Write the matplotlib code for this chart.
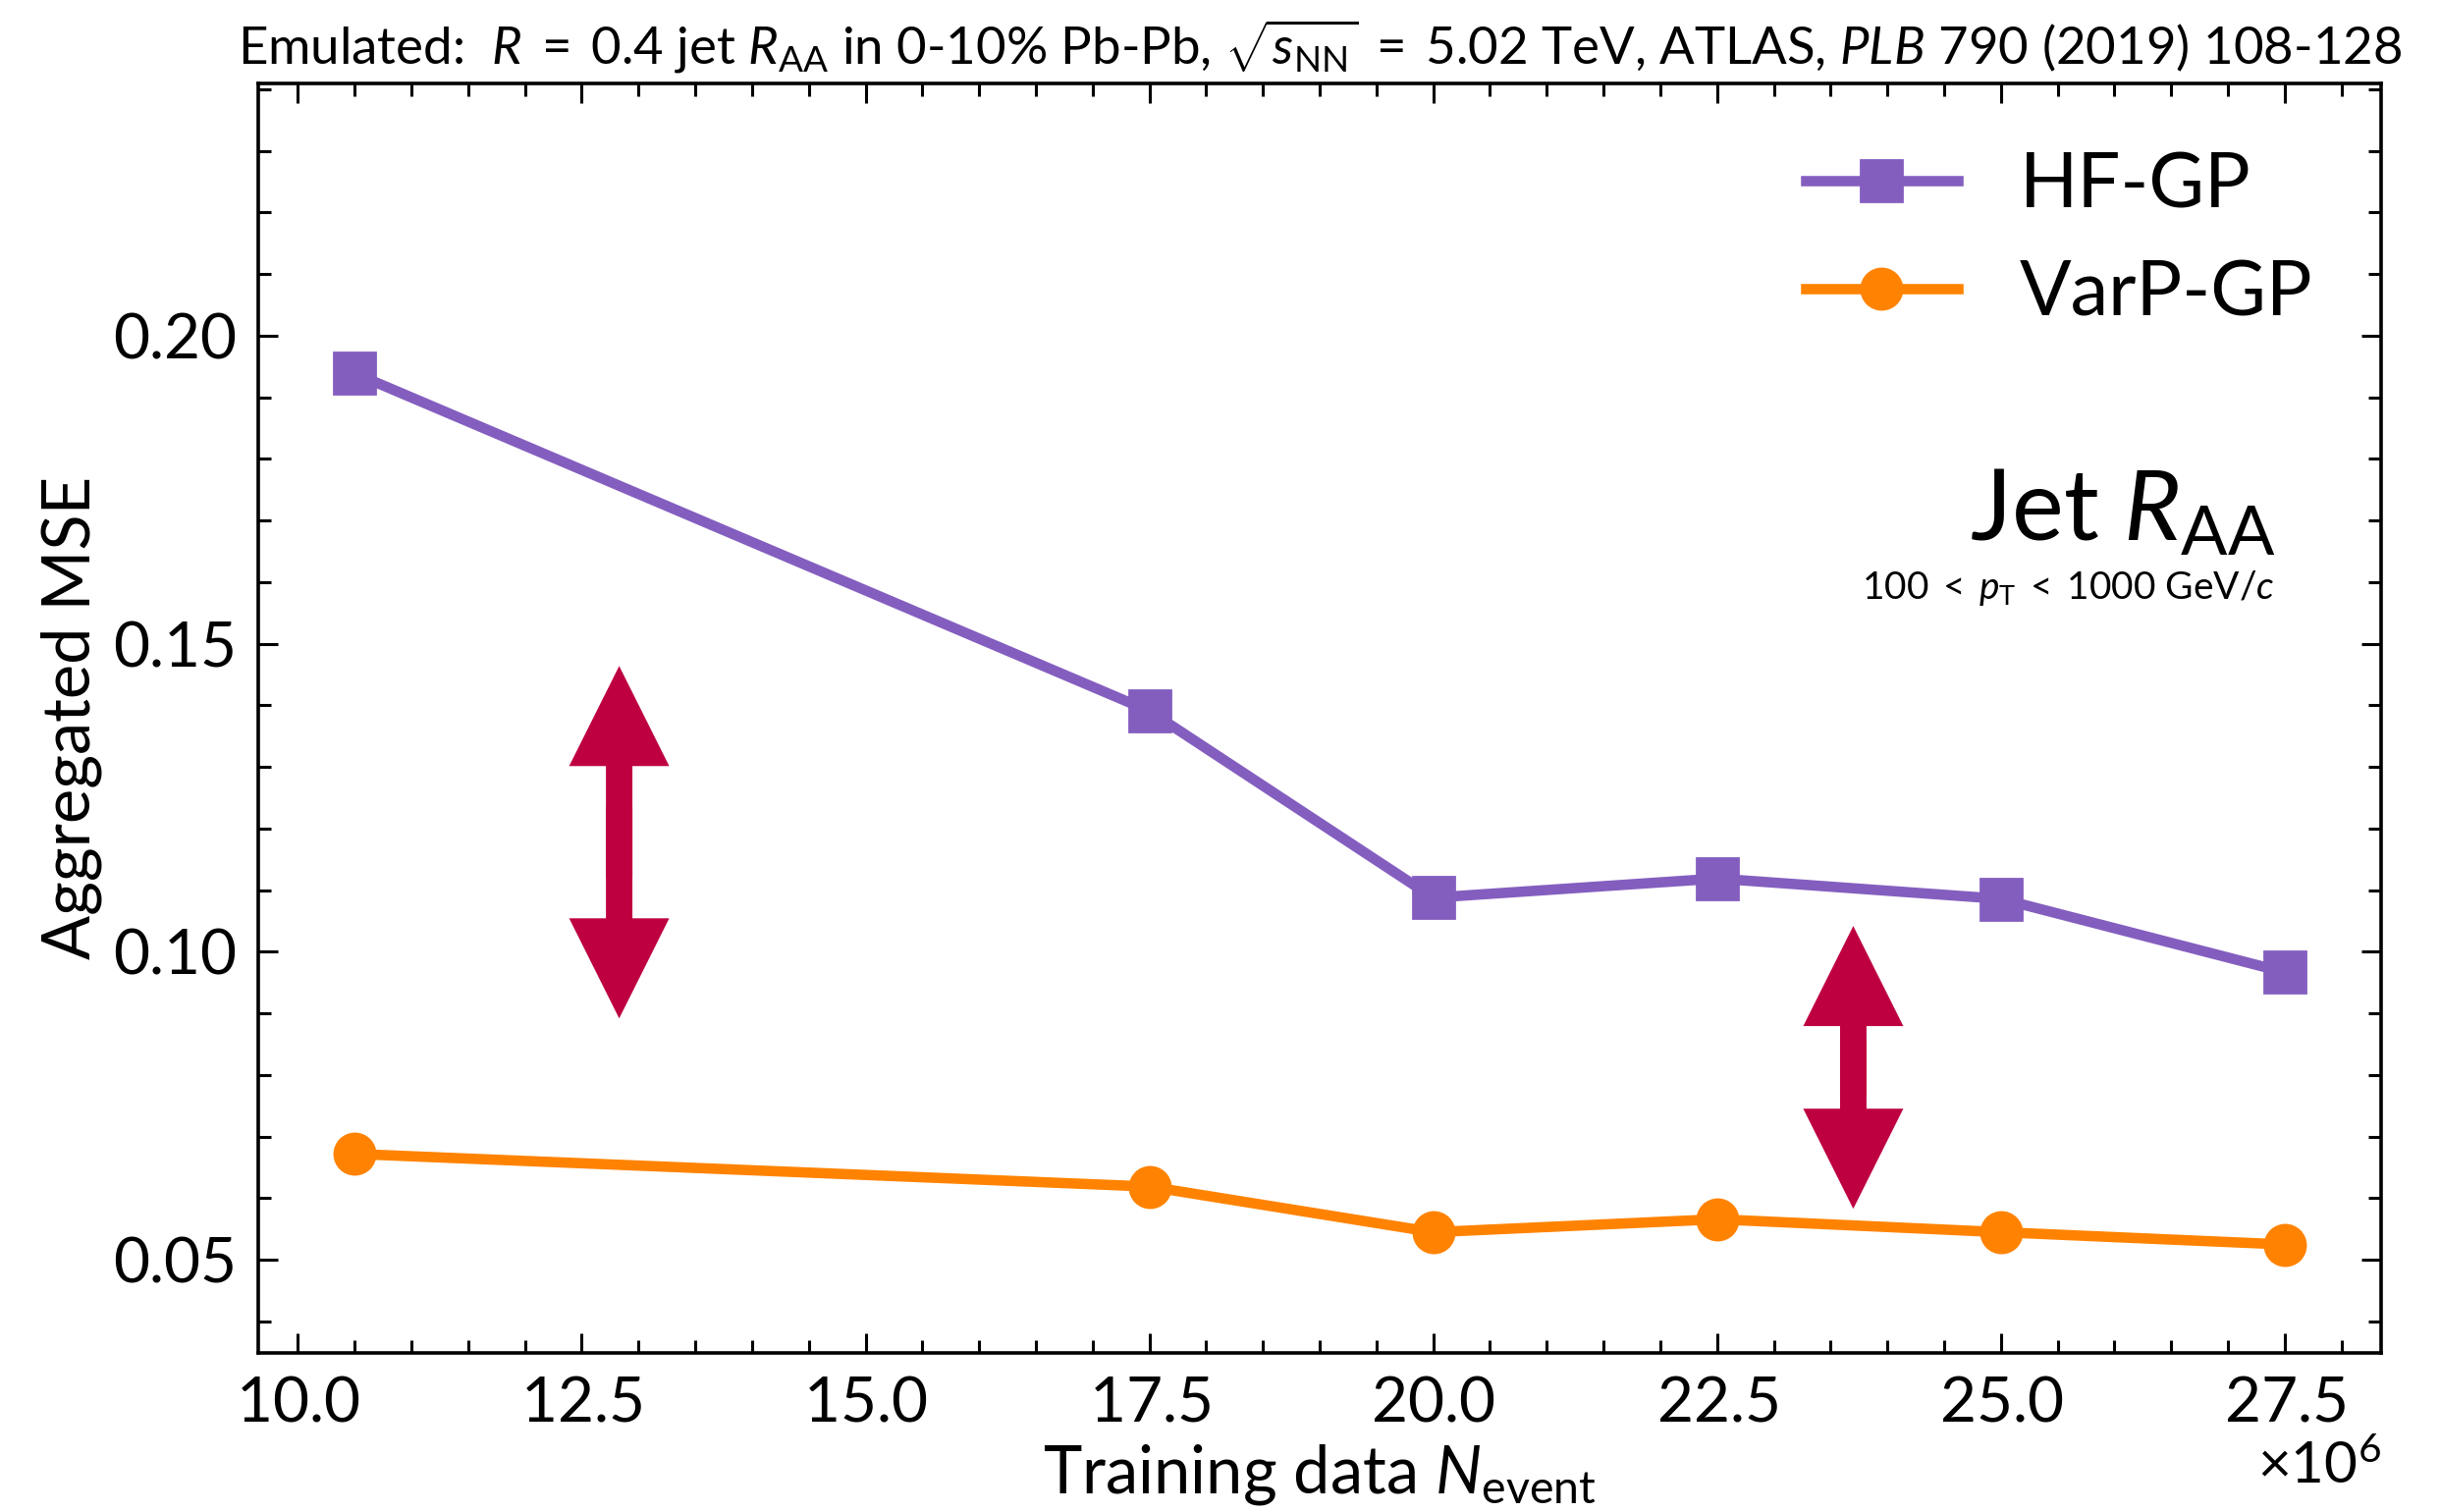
import matplotlib
matplotlib.use("Agg")
import matplotlib.pyplot as plt
from matplotlib.ticker import ScalarFormatter, AutoMinorLocator, MultipleLocator
from matplotlib.patches import FancyArrowPatch

# ---- data ----
n_event = [10.5e6, 17.5e6, 20.0e6, 22.5e6, 25.0e6, 27.5e6]
hf_gp = [0.1939, 0.1391, 0.1088, 0.1119, 0.1086, 0.0967]
varp_gp = [0.0672, 0.0619, 0.0545, 0.0566, 0.0545, 0.0525]
arrow_x = [12.83e6, 23.70e6]
arrow_top = [0.1464, 0.1042]
arrow_bottom = [0.0892, 0.0583]

plt.rcParams['font.family'] = ['Lato', 'DejaVu Sans']
plt.rcParams['mathtext.fontset'] = 'custom'
plt.rcParams['mathtext.rm'] = 'Lato'
plt.rcParams['mathtext.it'] = 'Lato:italic'
plt.rcParams['mathtext.bf'] = 'Lato:bold'

fig = plt.figure(figsize=(12.425, 7.7), dpi=200)
ax = fig.add_axes([0.1058, 0.1052, 0.9759 - 0.1058, 0.945 - 0.1052])

purple = '#845ebf'
orange = '#ff8300'
crimson = '#be0040'

ax.plot(n_event, hf_gp, color=purple, lw=3.8, marker='s', ms=14.8, label='HF-GP')
ax.plot(n_event, varp_gp, color=orange, lw=3.8, marker='o', ms=14.8, label='VarP-GP')

for x, yt, yb in zip(arrow_x, arrow_top, arrow_bottom):
    ym = 0.5 * (yt + yb)
    ov = 0.1 * (yt - yb)
    for y_start, y_end in ((ym - ov, yt), (ym + ov, yb)):
        a = FancyArrowPatch((x, y_start), (x, y_end),
                            arrowstyle='simple,head_length=3.67,head_width=3.67,tail_width=0.97',
                            mutation_scale=10, color=crimson, shrinkA=0, shrinkB=0, lw=0)
        ax.add_patch(a)

ax.set_ylim(0.0349, 0.241)
ax.margins(x=0.05)

fmt = ScalarFormatter(useMathText=True)
fmt.set_powerlimits((6, 6))
ax.xaxis.set_major_formatter(fmt)
ax.xaxis.set_major_locator(MultipleLocator(2.5e6))
ax.xaxis.set_minor_locator(AutoMinorLocator(5))
ax.yaxis.set_major_locator(MultipleLocator(0.05))
ax.yaxis.set_minor_locator(AutoMinorLocator(5))
ax.tick_params(which='both', direction='in', top=True, right=True, labelsize=23, width=1.1)
ax.tick_params(which='major', length=7.2, pad=8)
ax.tick_params(which='minor', length=4.7)
ax.xaxis.get_offset_text().set_fontsize(21)
for s in ax.spines.values():
    s.set_linewidth(1.3)

ax.set_xlabel('Training data $N_{\\rm event}$', fontsize=24, labelpad=4)
ax.set_ylabel('Aggregated MSE', fontsize=24, labelpad=4)
ax.set_title('Emulated:  $R\\;=\\;0.4$ jet $R_{\\rm AA}$ in 0-10% Pb-Pb, $\\sqrt{s_{\\rm NN}}\\;=\\;5.02$ TeV, ATLAS, '
             '$\\it{PLB\\ 790\\ (2019)\\ 108}$-$\\it{128}$', fontsize=19, pad=7)

ax.legend(loc='upper right', frameon=False, fontsize=28, numpoints=1)

ax.text(0.950, 0.640, 'Jet $R_{\\rm AA}$', transform=ax.transAxes, ha='right', va='baseline', fontsize=36)
ax.text(0.950, 0.594, '$100\\;<\\;p_{\\rm T}\\;<\\;1000$ GeV$/c$', transform=ax.transAxes, ha='right',
        va='baseline', fontsize=14)

fig.savefig('out.png', dpi=200)
